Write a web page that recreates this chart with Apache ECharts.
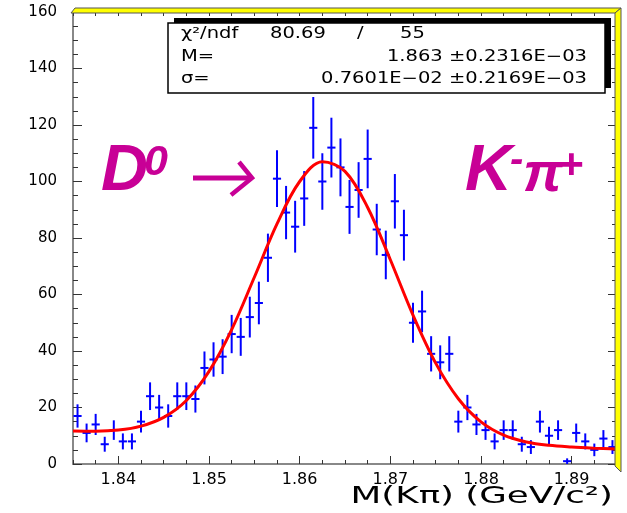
<!DOCTYPE html>
<html><head><meta charset="utf-8">
<script src="https://cdn.jsdelivr.net/npm/echarts@6/dist/echarts.min.js"></script>
<style>html,body{margin:0;padding:0;background:#fff}#c{width:627px;height:513px}</style>
</head><body><div id="c"></div>
<script>
// ---- data ----
const binCenters = [1.8355,1.8365,1.8375,1.8385,1.8395,1.8405,1.8415,1.8425,1.8435,1.8445,
  1.8455,1.8465,1.8475,1.8485,1.8495,1.8505,1.8515,1.8525,1.8535,1.8545,
  1.8555,1.8565,1.8575,1.8585,1.8595,1.8605,1.8615,1.8625,1.8635,1.8645,
  1.8655,1.8665,1.8675,1.8685,1.8695,1.8705,1.8715,1.8725,1.8735,1.8745,
  1.8755,1.8765,1.8775,1.8785,1.8795,1.8805,1.8815,1.8825,1.8835,1.8845,
  1.8855,1.8865,1.8875,1.8885,1.8895,1.8905,1.8915,1.8925,1.8935,1.8945];
const counts = [17,11,14,7,12,8,8,15,24,20,
  17,24,24,23,34,37,38,46,45,52,
  57,73,101,89,84,94,119,100,112,105,
  91,97,108,83,74,93,81,50,54,39,
  36,39,15,20,14,12,8,12,12,7,
  6,15,10,12,1,11,8,5,9,6];
const binWidth = 0.001;
const fitX = [1.835,1.8375,1.84,1.8425,1.845,1.8475,1.85,1.8525,1.855,1.8575,1.86,1.8625,
  1.865,1.8675,1.87,1.8725,1.875,1.8775,1.88,1.8825,1.885,1.8875,1.89,1.8925,1.895];
const fitY = [11.7,11.6,12.0,13.4,16.5,22.5,32.8,47.6,66.1,85.0,100.0,107.0,
  103.6,90.8,72.3,52.7,35.7,23.1,14.9,10.2,7.8,6.6,6.0,5.6,5.3];
const xTickLabels = [1.84,1.85,1.86,1.87,1.88,1.89];
const yTickLabels = [0,20,40,60,80,100,120,140,160];
const statsRow1 = ['χ²/ndf','80.69','/','55'];
const statsRow2 = ['M=','1.863 ±0.2316E−03'];
const statsRow3 = ['σ=','0.7601E−02 ±0.2169E−03'];
const xTitle = 'M(Kπ) (GeV/c²)';

const chart = echarts.init(document.getElementById('c'), null, {renderer:'canvas'});
const X0 = 1.835, X1 = 1.895;
const tickCol = '#333', axisCol = '#888';
const magenta = '#c80096';
const statFont = {fontFamily:'DejaVu Sans', fontSize:15, fill:'#000', verticalAlign:'middle'};
function sText(x,y,t,align){return {type:'text', x:x, y:y, scaleX:1.3, z:20,
  style:Object.assign({text:t, align:align||'left'}, statFont)};}
function mText(x,y,t,size,extra){return {type:'text', x:x, y:y, z:20,
  style:Object.assign({text:t, fill:magenta, fontFamily:'Liberation Sans', fontWeight:'bold',
   fontStyle:'italic', fontSize:size, align:'left', verticalAlign:'middle'}, extra||{})};}

const option = {
  animation:false,
  backgroundColor:'#fff',
  grid:{left:73, right:10, top:12, bottom:49, containLabel:false},
  xAxis:[
    {type:'value', position:'bottom', min:X0, max:X1, interval:0.0025,
     axisLine:{show:true, onZero:false, lineStyle:{color:axisCol, width:2}},
     axisTick:{show:true, inside:true, length:4, lineStyle:{color:tickCol}},
     axisLabel:{show:false}, splitLine:{show:false}},
    {type:'value', position:'bottom', min:X0, max:X1,
     axisLine:{show:false, onZero:false},
     axisTick:{show:true, inside:true, length:8, customValues:xTickLabels, lineStyle:{color:tickCol}},
     axisLabel:{show:true, customValues:xTickLabels, margin:8, color:'#000',
       fontFamily:'DejaVu Sans', fontSize:16, formatter:v=>v.toFixed(2)},
     splitLine:{show:false}},
    {type:'value', position:'top', min:X0, max:X1, interval:0.0025,
     axisLine:{show:false, onZero:false},
     axisTick:{show:true, inside:true, length:4, lineStyle:{color:tickCol}},
     axisLabel:{show:false}, splitLine:{show:false}}
  ],
  yAxis:[
    {type:'value', position:'left', min:0, max:160, interval:20,
     axisLine:{show:true, onZero:false, lineStyle:{color:axisCol, width:2}},
     axisTick:{show:true, inside:true, length:9, lineStyle:{color:tickCol}},
     minorTick:{show:true, splitNumber:4, length:5, lineStyle:{color:tickCol}},
     axisLabel:{show:true, margin:16, color:'#000', fontFamily:'DejaVu Sans', fontSize:15,
       customValues:yTickLabels},
     splitLine:{show:false}},
    {type:'value', position:'right', min:0, max:160, interval:20,
     axisLine:{show:false, onZero:false},
     axisTick:{show:true, inside:true, length:9, lineStyle:{color:tickCol}},
     minorTick:{show:true, splitNumber:4, length:5, lineStyle:{color:tickCol}},
     axisLabel:{show:false}, splitLine:{show:false}}
  ],
  series:[
    {type:'custom', xAxisIndex:0, yAxisIndex:0, clip:true, z:5,
     data:binCenters.map((x,i)=>[x,counts[i]]),
     renderItem:function(params, api){
       const x = api.value(0), y = api.value(1), e = Math.sqrt(y);
       const c = api.coord([x,y]);
       const t = api.coord([x,y+e]);
       const b = api.coord([x,y-e]);
       const hw = api.size([binWidth,0])[0]*0.45;
       const st = {stroke:'#0000ff', lineWidth:2};
       return {type:'group', children:[
         {type:'line', shape:{x1:c[0],y1:t[1],x2:c[0],y2:b[1]}, style:st},
         {type:'line', shape:{x1:c[0]-hw,y1:c[1],x2:c[0]+hw,y2:c[1]}, style:st}
       ]};
     }},
    {type:'line', xAxisIndex:0, yAxisIndex:0, z:6, smooth:0.35, showSymbol:false, symbol:'none',
     data:fitX.map((x,i)=>[x,fitY[i]]),
     lineStyle:{color:'#ff0000', width:3}}
  ],
  graphic:[
    // yellow frame bevel (top and right)
    {type:'polygon', z:10, shape:{points:[[71,13],[615,13],[621,8],[75,8]]},
     style:{fill:'#ffff00', stroke:'#555', lineWidth:1}},
    {type:'polygon', z:10, shape:{points:[[615,13],[621,8],[621,472],[615,466]]},
     style:{fill:'#ffff00', stroke:'#555', lineWidth:1}},
    // stats box
    {type:'rect', z:18, shape:{x:174, y:18, width:437, height:70}, style:{fill:'#000'}},
    {type:'rect', z:19, shape:{x:168, y:23, width:437, height:70}, style:{fill:'#fff', stroke:'#000', lineWidth:1.5}},
    sText(181,34,statsRow1[0]), sText(270,34,statsRow1[1]), sText(357,34,statsRow1[2]), sText(400,34,statsRow1[3]),
    sText(181,57,statsRow2[0]), sText(587,57,statsRow2[1],'right'),
    sText(181,79,statsRow3[0]), sText(587,79,statsRow3[1],'right'),
    // decay label
    mText(101,172,'D',65),
    mText(144,163,'0',43),
    {type:'polyline', z:20, shape:{points:[[193,178],[250,178]]},
     style:{stroke:magenta, lineWidth:5, fill:null}},
    {type:'polyline', z:20, shape:{points:[[239,162],[252,178],[231,195]]},
     style:{stroke:magenta, lineWidth:4.5, fill:null, lineJoin:'miter'}},
    mText(465,172,'K',65),
    mText(510,161,'-',40),
    mText(523,176,'π',56),
    mText(558,166,'+',43),
    // x axis title
    {type:'text', x:613, y:497, z:20, scaleX:1.55, style:{text:xTitle, fill:'#000',
      fontFamily:'DejaVu Sans', fontSize:23, align:'right', verticalAlign:'middle'}}
  ]
};
chart.setOption(option);
</script>
</body></html>
